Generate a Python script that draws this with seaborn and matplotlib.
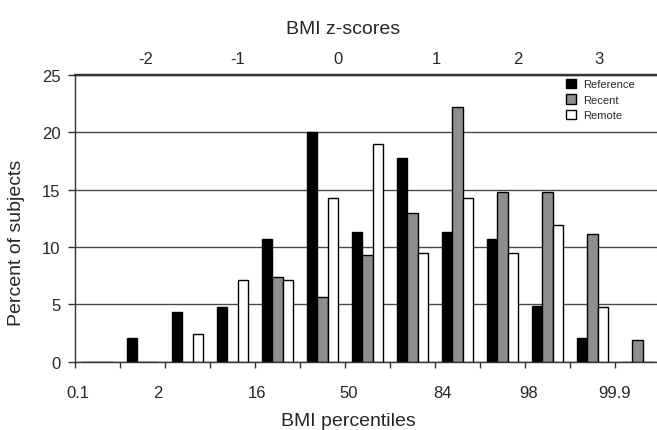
import numpy as np
import matplotlib
matplotlib.use("Agg")
import matplotlib.pyplot as plt
import pandas as pd
import seaborn as sns
from matplotlib.patches import Patch

# half-SD BMI z-score bins (left edge of each bin)
bins = ["-3.0", "-2.5", "-2.0", "-1.5", "-1.0", "-0.5", "0.0",
        "0.5", "1.0", "1.5", "2.0", "2.5", "3.0"]

# percent of subjects in each bin
reference = [0, 2.1, 4.3, 4.8, 10.7, 20.0, 11.3, 17.8, 11.3, 10.7, 4.9, 2.1, 0]
recent = [0, 0, 0, 0, 7.4, 5.6, 9.3, 13.0, 22.2, 14.8, 14.8, 11.1, 1.9]
remote = [0, 0, 2.4, 7.1, 7.1, 14.3, 19.0, 9.5, 14.3, 9.5, 11.9, 4.8, 0]

groups = ["Reference", "Recent", "Remote"]
colors = ["#000000", "#8e8e8e", "#ffffff"]

pct_labels = ["0.1", "2", "16", "50", "84", "98", "99.9"]
z_labels = ["-2", "-1", "0", "1", "2", "3"]

# where the label texts sit along the category axis
pct_pos = [-0.43, 1.34, 3.54, 5.57, 7.66, 9.57, 11.5]
z_pos = [1.08, 3.12, 5.34, 7.52, 9.34, 11.14]

df = pd.DataFrame({"bin": bins, "Reference": reference,
                   "Recent": recent, "Remote": remote})
df = df.melt(id_vars="bin", var_name="group", value_name="pct")

sns.set_style("white")
plt.rcParams["font.family"] = ["Liberation Sans", "DejaVu Sans"]

W, H = 657, 431
fig = plt.figure(figsize=(W / 100, H / 100), dpi=100)
ax = fig.add_axes([75 / W, 1 - 362.7 / H, 585 / W, 286.7 / H])

sns.barplot(data=df, x="bin", y="pct", hue="group", order=bins,
            hue_order=groups, palette=colors, saturation=1, width=0.71,
            gap=0, edgecolor="black", linewidth=1.0, legend=False, ax=ax)

ax.set_xlim(-0.5, 12.5)
ax.set_ylim(0, 25)
ax.set_yticks([0, 5, 10, 15, 20, 25])
ax.yaxis.grid(True, color="#4a4a4a", linewidth=1.0)
ax.set_axisbelow(True)

for side in ["left", "bottom"]:
    ax.spines[side].set_color("#333333")
    ax.spines[side].set_linewidth(1.0)
ax.spines["top"].set_color("#333333")
ax.spines["top"].set_linewidth(1.6)
ax.spines["right"].set_visible(False)

# tick marks on bin edges, percentile labels on their own spots
ax.xaxis.remove_overlapping_locs = False
ax.set_xticks(np.arange(-0.5, 12.5, 1.0), labels=[])
ax.set_xticks(pct_pos, labels=pct_labels, minor=True)
ax.tick_params(axis="x", which="major", direction="out", length=4,
               width=1, color="#333333", bottom=True)
ax.tick_params(axis="x", which="minor", length=0, pad=17, labelsize=12)
ax.tick_params(axis="y", direction="out", length=5, width=1,
               color="#333333", left=True, pad=5.5, labelsize=12)

ax.set_xlabel("BMI percentiles", fontsize=14)
ax.xaxis.set_label_coords(0.467, -0.176)
ax.set_ylabel("Percent of subjects", fontsize=14)
ax.yaxis.set_label_coords(-0.0855, 0.419)

# z-score scale along the top
top = ax.secondary_xaxis("top")
top.set_xticks(z_pos, labels=z_labels)
top.tick_params(length=0, pad=6.5, labelsize=12)
top.spines["top"].set_color("#333333")
top.spines["top"].set_linewidth(1.6)
top.set_xlabel("BMI z-scores", fontsize=14)
top.xaxis.set_label_coords(0.459, 1.148, transform=ax.transAxes)

handles = [Patch(facecolor=c, edgecolor="black", label=g)
           for g, c in zip(groups, colors)]
ax.legend(handles=handles, loc="upper left",
          bbox_to_anchor=(566 / W, 1 - 80 / H), bbox_transform=fig.transFigure,
          frameon=False, fontsize=8, handlelength=0.9, handleheight=0.9,
          handletextpad=0.6, borderpad=0, borderaxespad=0, labelspacing=0.45)

fig.savefig("out.png", dpi=100)
